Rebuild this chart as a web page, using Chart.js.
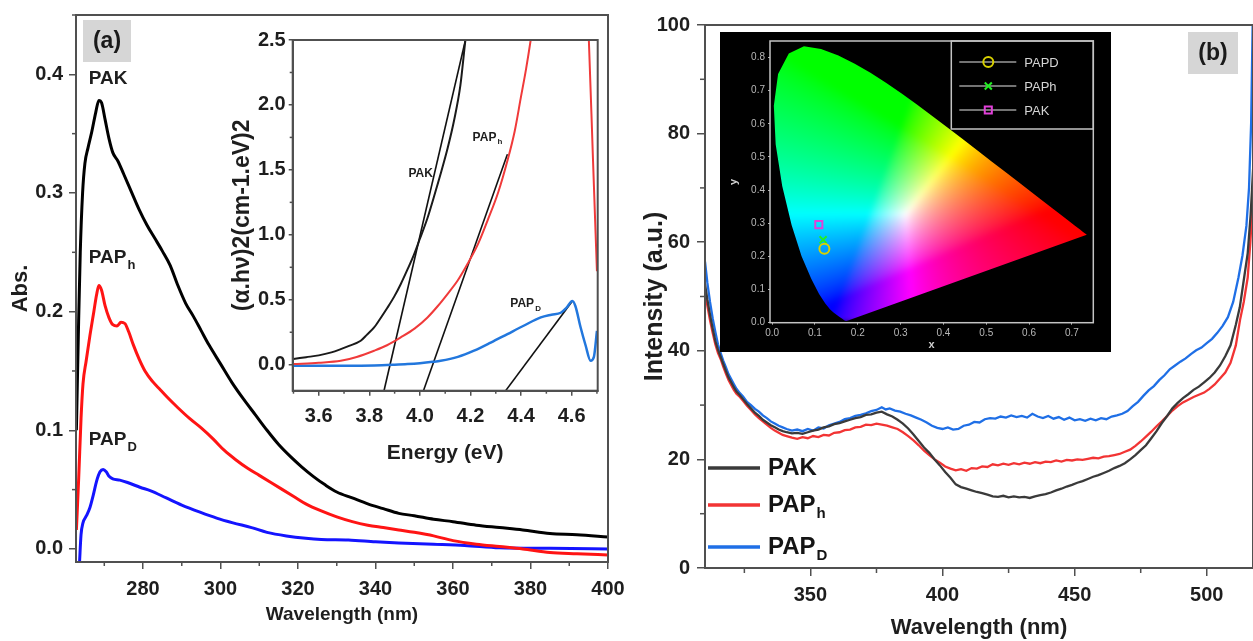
<!DOCTYPE html>
<html>
<head>
<meta charset="utf-8">
<script src="https://cdn.jsdelivr.net/npm/chart.js@4.4.1/dist/chart.umd.min.js"></script>
<style>
  html, body { margin: 0; padding: 0; background: #fff; }
  #fig { position: relative; width: 1253px; height: 641px; overflow: hidden; background: #fff; }
  canvas { position: absolute; }
</style>
</head>
<body>
<div id="fig">
  <canvas id="absMain" width="633" height="644" style="left:0;top:-3px;width:633px;height:644px"></canvas>
  <canvas id="tauc" width="395" height="450" style="left:215px;top:25px;width:395px;height:450px"></canvas>
  <canvas id="plMain" width="623" height="641" style="left:630px;top:0;width:623px;height:641px"></canvas>
  <canvas id="cie" width="391" height="320" style="left:720px;top:32px;width:391px;height:320px"></canvas>
</div>
<script>
// ---------- (a) UV-Vis absorbance: [wavelength nm, Abs] ----------
const absPAK = [[262.8,0.10],[263.3,0.18],[263.8,0.25],[264.4,0.30],[265.0,0.325],[265.8,0.338],[266.8,0.352],[267.8,0.368],[268.6,0.378],[269.3,0.376],[270.2,0.362],[271.2,0.346],[272.2,0.334],[273.5,0.327],[275,0.316],[277,0.301],[279,0.286],[281,0.273],[283,0.262],[285,0.251],[287,0.239],[289,0.222],[291,0.207],[293,0.196],[295,0.184],[297,0.172],[300,0.156],[303,0.140],[306,0.126],[309,0.113],[312,0.100],[315,0.088],[318,0.078],[321,0.069],[324,0.061],[327,0.054],[330,0.048],[334,0.043],[338,0.038],[342,0.034],[346,0.030],[350,0.028],[355,0.025],[360,0.023],[366,0.020],[372,0.018],[378,0.016],[385,0.013],[392,0.012],[400,0.010]];
const absPAPh = [[262.8,0.016],[263.4,0.06],[264.0,0.11],[264.5,0.139],[265.3,0.158],[266.3,0.18],[267.3,0.20],[268.0,0.214],[268.6,0.222],[269.3,0.218],[270.2,0.205],[271.2,0.195],[272.2,0.189],[273.3,0.188],[274.3,0.191],[275.3,0.190],[276.3,0.183],[277.5,0.172],[279,0.160],[280.5,0.150],[282.5,0.141],[284.5,0.134],[286.2,0.128],[289,0.119],[292,0.110],[295,0.102],[298,0.093],[301,0.083],[304,0.075],[307,0.068],[310,0.062],[313,0.056],[316,0.050],[319,0.044],[322,0.038],[326,0.032],[330,0.027],[334,0.023],[338,0.020],[342,0.018],[346,0.016],[350,0.014],[355,0.011],[360,0.007],[366,0.004],[372,0.002],[378,0.000],[385,-0.003],[392,-0.004],[400,-0.005]];
const absPAPD = [[263.6,-0.012],[264.0,0.012],[264.5,0.022],[265.4,0.028],[266.3,0.035],[267.2,0.046],[268.0,0.057],[268.9,0.065],[269.7,0.067],[270.5,0.065],[271.3,0.061],[272.2,0.059],[274,0.058],[276,0.056],[279.2,0.052],[282,0.049],[286,0.043],[290,0.037],[294.7,0.031],[299,0.026],[303.2,0.022],[308,0.018],[312,0.014],[317,0.011],[322,0.009],[326,0.008],[333,0.0075],[340,0.006],[346,0.005],[355,0.004],[363,0.003],[372,0.001],[385,0.0005],[400,0.0]];

// ---------- (a) inset: Tauc plot [energy eV, (αhν)^2] ----------
const taucPAK = [[3.5,0.044],[3.55,0.058],[3.6,0.072],[3.65,0.095],[3.687,0.12],[3.72,0.145],[3.766,0.185],[3.79,0.23],[3.819,0.287],[3.845,0.36],[3.872,0.44],[3.9,0.53],[3.924,0.62],[3.95,0.73],[3.977,0.85],[4.0,0.97],[4.03,1.13],[4.055,1.29],[4.082,1.47],[4.11,1.67],[4.135,1.88],[4.16,2.15],[4.18,2.5],[4.2,2.8]];
const taucPAPh = [[3.5,0.005],[3.6,0.015],[3.687,0.03],[3.75,0.06],[3.819,0.108],[3.87,0.15],[3.924,0.21],[3.98,0.28],[4.03,0.364],[4.07,0.45],[4.109,0.544],[4.15,0.65],[4.188,0.775],[4.23,0.93],[4.267,1.108],[4.31,1.33],[4.346,1.57],[4.375,1.8],[4.399,2.056],[4.42,2.28],[4.438,2.5],[4.46,2.8],[4.52,3.5],[4.6,4.2],[4.64,3.6],[4.668,2.5],[4.684,1.6],[4.70,0.72]];
const taucPAPD = [[3.5,-0.008],[3.6,-0.008],[3.7,-0.008],[3.819,-0.006],[3.9,0.0],[3.951,0.005],[4.0,0.012],[4.05,0.022],[4.082,0.03],[4.15,0.06],[4.214,0.108],[4.28,0.17],[4.346,0.236],[4.41,0.30],[4.478,0.364],[4.52,0.385],[4.557,0.40],[4.58,0.44],[4.603,0.49],[4.615,0.45],[4.635,0.29],[4.655,0.15],[4.675,0.03],[4.688,0.06],[4.70,0.26]];
const fitPAK = [[3.858,-0.2],[4.18,2.5]];
const fitPAPh = [[4.014,-0.2],[4.346,1.62]];
const fitPAPD = [[4.339,-0.2],[4.603,0.49]];

// ---------- (b) photoluminescence: [wavelength nm, intensity a.u.] ----------
const plPAK = [[310.1,52.3],[311,49.4],[312,46.6],[313,44.1],[314,41.8],[315,40.2],[316,38.9],[317,37.6],[318,36.3],[319,35.1],[320,34.2],[321,33.3],[322,32.5],[323.3,31.8],[324.5,31.1],[326,30.2],[327.5,29.4],[329,28.6],[330.5,28.0],[332,27.3],[333.5,26.8],[335,26.3],[336.5,25.9],[338,25.5],[339.5,25.2],[341,25.0],[343,24.8],[345,24.9],[347,24.7],[349,25.0],[351,25.3],[353,25.5],[355,25.9],[357,26.1],[359,26.5],[361,26.7],[363,27.0],[365,27.3],[367,27.6],[369,27.8],[371,28.2],[373,28.3],[375,28.6],[377,28.8],[379,28.3],[381,27.9],[383,27.3],[385,26.6],[387,25.7],[389,24.6],[391,23.4],[393,22.2],[395,21.2],[397,20.0],[399,18.9],[401,17.7],[403,16.6],[405,15.4],[407,14.9],[409,14.6],[411,14.3],[413,14.0],[415,13.8],[417,13.5],[419,13.2],[421,13.1],[423,13.3],[425,13.0],[427,13.2],[429,13.0],[431,13.1],[433,12.9],[435,13.2],[437,13.4],[439,13.6],[441,13.9],[443,14.3],[445,14.6],[447,15.0],[449,15.3],[451,15.7],[453,16.0],[455,16.4],[457,16.8],[459,17.1],[461,17.5],[463,17.9],[465,18.4],[467,18.8],[469,19.3],[471,20.0],[473,20.8],[475,21.7],[477,22.6],[479,23.9],[481,25.2],[483,26.7],[485,28.0],[487,29.4],[489,30.4],[491,31.3],[493,32.0],[495,32.8],[497,33.4],[499,34.2],[501,35.0],[503,36.0],[505,37.3],[507,39.0],[509,41.0],[511,44.8],[512.5,48],[514,53],[515.5,58],[516.6,65],[517.6,74]];
const plPAPh = [[310.1,51.2],[311,48.3],[312,45.6],[313,43.3],[314,41.2],[315,39.6],[316,38.5],[317,37.1],[318,35.8],[319,34.6],[320,33.7],[321,32.8],[322,32.1],[323.3,31.5],[324.5,30.8],[326,29.9],[327.5,29.1],[329,28.3],[330.5,27.6],[332,27.0],[333.5,26.4],[335,25.8],[336.5,25.3],[338,24.9],[339.5,24.5],[341,24.3],[343,24.0],[345,23.8],[347,24.1],[349,23.9],[351,24.3],[353,24.1],[355,24.5],[357,24.4],[359,24.9],[361,25.0],[363,25.4],[365,25.5],[367,25.9],[369,26.0],[371,26.4],[373,26.3],[375,26.6],[377,26.4],[379,26.2],[381,25.9],[383,25.6],[385,25.0],[387,24.3],[389,23.5],[391,22.6],[393,21.6],[395,20.8],[397,20.0],[399,19.4],[401,18.7],[403,18.3],[405,18.0],[407,18.2],[409,17.9],[411,18.4],[413,18.3],[415,18.7],[417,18.6],[419,19.1],[421,18.9],[423,19.2],[425,19.0],[427,19.3],[429,19.1],[431,19.4],[433,19.2],[435,19.5],[437,19.3],[439,19.6],[441,19.5],[443,19.8],[445,19.6],[447,19.9],[449,19.8],[451,20.0],[453,19.9],[455,20.1],[457,20.3],[459,20.2],[461,20.5],[463,20.6],[465,20.8],[467,21.0],[469,21.4],[471,21.8],[473,22.5],[475,23.3],[477,24.2],[479,25.1],[481,26.1],[483,27.0],[485,28.0],[487,29.0],[489,29.8],[491,30.5],[493,31.0],[495,31.5],[497,31.9],[499,32.3],[501,33.0],[503,33.8],[505,34.9],[507,36.0],[509,37.8],[511,41.0],[512.6,45.7],[514,49.0],[515.5,53.5],[516.5,60],[517.2,66],[517.6,72]];
const plPAPD = [[310.1,56.4],[311,52.5],[312,49.0],[313,46.0],[314,43.5],[315,41.2],[316,39.6],[317,38.2],[318,37.0],[319,35.7],[320,34.8],[321,33.9],[322,33.0],[323.3,32.2],[324.5,31.6],[326,30.6],[327.5,30.0],[329,29.3],[330.5,28.8],[332,28.1],[333.5,27.6],[335,27.0],[336.5,26.6],[338,26.2],[339.5,25.9],[341,25.6],[343,25.3],[345,25.5],[347,25.2],[349,25.6],[351,25.3],[353,25.9],[355,25.7],[357,26.3],[359,26.6],[361,26.9],[363,27.4],[365,27.6],[367,28.0],[369,28.2],[371,28.5],[373,28.9],[375,29.1],[377,29.6],[378.5,29.2],[380,29.4],[382,29.0],[384,28.8],[386,28.4],[388,28.1],[390,27.7],[392,27.3],[394,26.8],[396,26.2],[398,25.8],[400,25.6],[402,25.9],[404,25.5],[406,25.6],[408,26.2],[410,26.4],[412,26.9],[414,26.8],[416,27.4],[418,27.6],[420,27.5],[422,27.9],[424,27.7],[426,28.1],[428,27.8],[430,28.0],[432,27.7],[434,28.4],[436,27.9],[438,27.6],[440,28.0],[442,27.5],[444,27.8],[446,27.3],[448,27.7],[450,27.2],[452,27.4],[454,27.1],[456,27.5],[458,27.2],[460,27.6],[462,27.4],[464,27.9],[466,28.1],[468,28.4],[470,28.9],[472,29.8],[474,30.6],[476,31.7],[478,32.7],[480,33.5],[482,34.6],[484,35.5],[486,36.6],[488,37.3],[490,38.0],[492,38.6],[494,39.4],[496,40.1],[498,40.6],[500,41.4],[502,42.2],[504,43.3],[506,44.6],[508,46.2],[510,49.0],[512,53.5],[513.5,57.5],[515,63],[516,70],[516.8,82],[517.3,98],[517.6,108]];

// ---------- (b) inset: CIE 1931 chromaticity ----------
const cieLocus = [[0.1741,0.0050],[0.1733,0.0048],[0.1726,0.0048],[0.1714,0.0051],[0.1689,0.0069],[0.1644,0.0109],[0.1566,0.0177],[0.1440,0.0297],[0.1355,0.0399],[0.1241,0.0578],[0.1096,0.0868],[0.0913,0.1327],[0.0687,0.2007],[0.0454,0.2950],[0.0235,0.4127],[0.0082,0.5384],[0.0039,0.6548],[0.0139,0.7502],[0.0389,0.8120],[0.0743,0.8338],[0.1142,0.8262],[0.1547,0.8059],[0.1929,0.7816],[0.2296,0.7543],[0.2658,0.7243],[0.3016,0.6923],[0.3373,0.6589],[0.3731,0.6245],[0.4087,0.5896],[0.4441,0.5547],[0.4788,0.5202],[0.5125,0.4866],[0.5448,0.4544],[0.5752,0.4242],[0.6029,0.3965],[0.6270,0.3725],[0.6482,0.3514],[0.6658,0.3340],[0.6915,0.3083],[0.7079,0.2920],[0.7190,0.2809],[0.7260,0.2740],[0.7300,0.2700],[0.7334,0.2666],[0.7347,0.2653]];
const cieNames = ['PAPD', 'PAPh', 'PAK'];
const cieX = [0.122, 0.119, 0.109];
const cieY = [0.223, 0.250, 0.296];

const FONT = "'Liberation Sans', Arial, Helvetica, sans-serif";
Chart.defaults.font.family = FONT;
Chart.defaults.font.weight = 'bold';
Chart.defaults.color = '#1e1e1e';
Chart.defaults.animation = false;
Chart.defaults.events = [];
Chart.defaults.plugins.legend.display = false;
Chart.defaults.plugins.tooltip.enabled = false;

const pts = a => a.map(([x, y]) => ({ x, y }));
const AX = '#505050';

function line(data, color, width, smooth) {
  return {
    data: pts(data), showLine: true, borderColor: color, backgroundColor: color,
    borderWidth: width, pointRadius: 0,
    cubicInterpolationMode: smooth ? 'monotone' : 'default', tension: 0
  };
}

function framePlugin(color, width) {
  return {
    id: 'frame',
    afterDatasetsDraw(chart) {
      const { ctx, chartArea: a } = chart;
      ctx.save();
      ctx.strokeStyle = color; ctx.lineWidth = width;
      ctx.strokeRect(a.left, a.top, a.right - a.left, a.bottom - a.top);
      ctx.restore();
    }
  };
}

function minorTicksPlugin(spec) {
  return {
    id: 'minorTicks',
    afterDraw(chart) {
      const { ctx } = chart;
      ctx.save();
      for (const [id, o] of Object.entries(spec)) {
        const sc = chart.scales[id];
        const majors = sc.ticks.map(t => t.value);
        ctx.strokeStyle = o.color || AX; ctx.lineWidth = o.width || 1.5;
        for (let k = Math.ceil(sc.min / o.step - 1e-9); k * o.step <= sc.max + 1e-9; k++) {
          const v = k * o.step;
          if (majors.some(m => Math.abs(m - v) < o.step * 1e-3)) continue;
          const p = sc.getPixelForValue(v);
          ctx.beginPath();
          if (sc.isHorizontal()) { ctx.moveTo(p, sc.top); ctx.lineTo(p, sc.top + o.len); }
          else { ctx.moveTo(sc.right, p); ctx.lineTo(sc.right - o.len, p); }
          ctx.stroke();
        }
      }
      ctx.restore();
    }
  };
}

function drawSubText(ctx, x, y, main, sub, size, subSize, align, color) {
  ctx.save();
  ctx.fillStyle = color || '#1e1e1e';
  ctx.textBaseline = 'middle'; ctx.textAlign = 'left';
  ctx.font = `bold ${size}px ${FONT}`;
  const w1 = ctx.measureText(main).width;
  ctx.font = `bold ${subSize}px ${FONT}`;
  const w2 = sub ? ctx.measureText(sub).width + 1 : 0;
  const x0 = align === 'center' ? x - (w1 + w2) / 2 : x;
  ctx.font = `bold ${size}px ${FONT}`;
  ctx.fillText(main, x0, y);
  if (sub) {
    ctx.font = `bold ${subSize}px ${FONT}`;
    ctx.fillText(sub, x0 + w1 + 1, y + size * 0.36);
  }
  ctx.restore();
}

// curve names written next to the curves, anchored in data coordinates
function curveLabelsPlugin(items, size, subSize) {
  return {
    id: 'curveLabels',
    afterDatasetsDraw(chart) {
      const { ctx, scales: { x, y } } = chart;
      for (const it of items) {
        drawSubText(ctx, x.getPixelForValue(it.x), y.getPixelForValue(it.y), it.text, it.sub, size, subSize, 'center');
      }
    }
  };
}

function panelTagPlugin(text, fromRight, dx, dy, w, h) {
  return {
    id: 'panelTag',
    afterDraw(chart) {
      const { ctx, chartArea: a } = chart;
      const left = fromRight ? a.right - dx - w : a.left + dx;
      const top = a.top + dy;
      ctx.save();
      ctx.fillStyle = '#d6d6d6';
      ctx.fillRect(left, top, w, h);
      ctx.fillStyle = '#1a1a1a';
      ctx.font = `bold 23px ${FONT}`;
      ctx.textAlign = 'center'; ctx.textBaseline = 'middle';
      ctx.fillText(text, left + w / 2, top + h / 2 + 1);
      ctx.restore();
    }
  };
}

const tickFmt = d => v => Number(v).toFixed(d);

// ================= (a) main absorbance chart =================
new Chart(document.getElementById('absMain'), {
  type: 'scatter',
  data: {
    datasets: [
      line(absPAK, '#000000', 3, true),
      line(absPAPh, '#ff1414', 3, true),
      line(absPAPD, '#1414ff', 3, true)
    ]
  },
  options: {
    responsive: false,
    layout: { padding: { left: 0, top: 14, right: 25, bottom: 0 } },
    scales: {
      x: {
        type: 'linear', min: 262.7, max: 400,
        afterFit: s => { s.height = 79; },
        ticks: { stepSize: 20, includeBounds: false, maxRotation: 0, autoSkip: false, padding: 8, font: { size: 20 }, callback: tickFmt(0) },
        grid: { drawOnChartArea: false, color: AX, lineWidth: 1.5, tickLength: 7 },
        border: { color: AX, width: 2 },
        title: { display: true, text: 'Wavelength (nm)', font: { size: 19 }, padding: { top: 0, bottom: 14.6 } }
      },
      y: {
        type: 'linear', min: -0.011, max: 0.45,
        afterFit: s => { s.width = 76; },
        ticks: { stepSize: 0.1, includeBounds: false, padding: 6, font: { size: 20 }, callback: tickFmt(1) },
        grid: { drawOnChartArea: false, color: AX, lineWidth: 1.5, tickLength: 7 },
        border: { color: AX, width: 2 },
        title: { display: true, text: 'Abs.', font: { size: 22 }, padding: { top: 7.8, bottom: 0 } }
      }
    }
  },
  plugins: [
    framePlugin(AX, 2),
    minorTicksPlugin({ x: { step: 10, len: 4 }, y: { step: 0.05, len: 4 } }),
    curveLabelsPlugin([
      { text: 'PAK', x: 271.0, y: 0.396 },
      { text: 'PAP', sub: 'h', x: 272.0, y: 0.245 },
      { text: 'PAP', sub: 'D', x: 272.2, y: 0.0916 }
    ], 19, 13),
    panelTagPlugin('(a)', false, 7, 5, 48, 42)
  ]
});

// ================= (a) inset: Tauc plot =================
new Chart(document.getElementById('tauc'), {
  type: 'scatter',
  data: {
    datasets: [
      line(taucPAK, '#1a1a1a', 2, true),
      line(taucPAPh, '#f03a3a', 2, true),
      line(taucPAPD, '#2277dd', 2.5, true),
      line(fitPAK, '#111111', 1.6, false),
      line(fitPAPh, '#111111', 1.6, false),
      line(fitPAPD, '#111111', 1.6, false)
    ]
  },
  options: {
    responsive: false,
    layout: { padding: { left: 0, top: 14, right: 12.3, bottom: 0 } },
    scales: {
      x: {
        type: 'linear', min: 3.497, max: 4.703,
        afterFit: s => { s.height = 84.3; },
        ticks: { stepSize: 0.2, includeBounds: false, maxRotation: 0, autoSkip: false, padding: 9, font: { size: 20 }, callback: tickFmt(1) },
        grid: { drawOnChartArea: false, color: AX, lineWidth: 1.5, tickLength: 5 },
        border: { color: AX, width: 2 },
        title: { display: true, text: 'Energy (eV)', font: { size: 21 }, padding: { top: 0, bottom: 9.4 } }
      },
      y: {
        type: 'linear', min: -0.2, max: 2.5,
        afterFit: s => { s.width = 77.7; },
        ticks: { stepSize: 0.5, includeBounds: false, padding: 3, font: { size: 20 }, callback: tickFmt(1) },
        grid: { drawOnChartArea: false, color: AX, lineWidth: 1.5, tickLength: 4 },
        border: { color: AX, width: 2 },
        title: { display: true, text: '(α.hν)2(cm-1.eV)2', font: { size: 23 }, padding: { top: 14, bottom: 0 } }
      }
    }
  },
  plugins: [
    framePlugin(AX, 2),
    minorTicksPlugin({ x: { step: 0.1, len: 3 }, y: { step: 0.25, len: 3 } }),
    curveLabelsPlugin([
      { text: 'PAK', x: 4.003, y: 1.467 },
      { text: 'PAP', sub: 'h', x: 4.267, y: 1.748 },
      { text: 'PAP', sub: 'D', x: 4.418, y: 0.467 }
    ], 12, 8)
  ]
});

// ================= (b) photoluminescence chart =================
const plLegend = {
  id: 'plLegend',
  afterDatasetsDraw(chart) {
    const { ctx, chartArea: a } = chart;
    const rows = [-100, -63, -21];
    chart.data.datasets.forEach((ds, i) => {
      const y = a.bottom + rows[i];
      ctx.save();
      ctx.strokeStyle = ds.borderColor; ctx.lineWidth = 3.5;
      ctx.beginPath(); ctx.moveTo(a.left + 3, y); ctx.lineTo(a.left + 55, y); ctx.stroke();
      ctx.restore();
      drawSubText(ctx, a.left + 63, y, ds.label, ds.labelSub, 24, 15, 'left', '#141414');
    });
  }
};

new Chart(document.getElementById('plMain'), {
  type: 'scatter',
  data: {
    datasets: [
      Object.assign(line(plPAK, '#3a3a3a', 2.3, false), { label: 'PAK', labelSub: '' }),
      Object.assign(line(plPAPh, '#f23434', 2.3, false), { label: 'PAP', labelSub: 'h' }),
      Object.assign(line(plPAPD, '#1f6fe6', 2.3, false), { label: 'PAP', labelSub: 'D' })
    ]
  },
  options: {
    responsive: false,
    layout: { padding: { left: 0, top: 25, right: 0, bottom: 0 } },
    scales: {
      x: {
        type: 'linear', min: 310.1, max: 517.5,
        afterFit: s => { s.height = 73; },
        ticks: { stepSize: 50, includeBounds: false, maxRotation: 0, autoSkip: false, padding: 7, font: { size: 20 }, callback: tickFmt(0) },
        grid: { drawOnChartArea: false, color: AX, lineWidth: 1.5, tickLength: 8 },
        border: { color: AX, width: 2 },
        title: { display: true, text: 'Wavelength (nm)', font: { size: 22 }, padding: { top: 0, bottom: 0 } }
      },
      y: {
        type: 'linear', min: 0, max: 100,
        afterFit: s => { s.width = 75; },
        ticks: { stepSize: 20, includeBounds: false, padding: 7, font: { size: 20 }, callback: tickFmt(0) },
        grid: { drawOnChartArea: false, color: AX, lineWidth: 1.5, tickLength: 8 },
        border: { color: AX, width: 2 },
        title: { display: true, text: 'Intensity (a.u.)', font: { size: 25 }, padding: { top: 10, bottom: 0 } }
      }
    }
  },
  plugins: [
    framePlugin(AX, 2),
    minorTicksPlugin({ x: { step: 25, len: 5 }, y: { step: 10, len: 5 } }),
    plLegend,
    panelTagPlugin('(b)', true, 15, 7, 50, 42)
  ]
});

// ================= (b) inset: CIE 1931 diagram =================
function srgbGamma(c) { return c <= 0.0031308 ? 12.92 * c : 1.055 * Math.pow(c, 1 / 2.4) - 0.055; }
function xyToRgb(x, y) {
  const X = x / y, Y = 1, Z = (1 - x - y) / y;
  let r = 3.2406 * X - 1.5372 * Y - 0.4986 * Z;
  let g = -0.9689 * X + 1.8758 * Y + 0.0415 * Z;
  let b = 0.0557 * X - 0.2040 * Y + 1.0570 * Z;
  r = Math.max(r, 0); g = Math.max(g, 0); b = Math.max(b, 0);
  const m = Math.max(r, g, b) || 1;
  // a moderate chroma curve keeps the white region compact but soft
  const s = c => srgbGamma(Math.pow(c / m, 1.5)) * 255;
  return [s(r), s(g), s(b)];
}

const cieBackdrop = {
  id: 'cieBackdrop',
  beforeDraw(chart) {
    const { ctx, width, height } = chart;
    ctx.save(); ctx.fillStyle = '#000'; ctx.fillRect(0, 0, width, height); ctx.restore();
  },
  beforeDatasetsDraw(chart) {
    const { ctx, chartArea: a, scales: { x, y } } = chart;
    const w = Math.ceil(a.right - a.left), h = Math.ceil(a.bottom - a.top);
    const off = document.createElement('canvas');
    off.width = w; off.height = h;
    const octx = off.getContext('2d');
    const img = octx.createImageData(w, h);
    for (let j = 0; j < h; j++) {
      const cy = y.getValueForPixel(a.top + j + 0.5);
      for (let i = 0; i < w; i++) {
        const cx = x.getValueForPixel(a.left + i + 0.5);
        const k = (j * w + i) * 4;
        if (cy <= 0.002) { img.data[k + 3] = 255; continue; }
        const [r, g, b] = xyToRgb(cx, cy);
        img.data[k] = r; img.data[k + 1] = g; img.data[k + 2] = b; img.data[k + 3] = 255;
      }
    }
    octx.putImageData(img, 0, 0);
    ctx.save();
    ctx.beginPath();
    cieLocus.forEach(([lx, ly], n) => {
      const px = x.getPixelForValue(lx), py = y.getPixelForValue(ly);
      n ? ctx.lineTo(px, py) : ctx.moveTo(px, py);
    });
    ctx.closePath();
    ctx.clip();
    ctx.filter = 'blur(2.5px)';
    ctx.drawImage(off, a.left, a.top);
    ctx.restore();
  },
  afterDatasetsDraw(chart) {
    const { ctx, chartArea: a } = chart;
    ctx.save();
    ctx.strokeStyle = '#c4c4c4'; ctx.lineWidth = 1.5;
    ctx.strokeRect(a.left, a.top, a.right - a.left, a.bottom - a.top);
    // legend box in the upper right corner
    const bl = a.right - 142, bt = a.top, bw = 142, bh = 88;
    ctx.strokeRect(bl, bt, bw, bh);
    chart.data.datasets.slice(1).forEach((ds, i) => {
      const yy = bt + 21 + i * 24;
      ctx.strokeStyle = '#9a9a9a'; ctx.lineWidth = 1.5;
      ctx.beginPath(); ctx.moveTo(bl + 8, yy); ctx.lineTo(bl + 65, yy); ctx.stroke();
      ctx.strokeStyle = ds.pointBorderColor; ctx.fillStyle = 'rgba(0,0,0,0)';
      ctx.lineWidth = ds.pointBorderWidth;
      Chart.helpers.drawPoint(ctx, { pointStyle: ds.pointStyle, radius: ds.pointRadius, rotation: 0, borderWidth: ds.pointBorderWidth }, bl + 37, yy);
      ctx.fillStyle = '#d4d4d4';
      ctx.font = `13px ${FONT}`;
      ctx.textAlign = 'left'; ctx.textBaseline = 'middle';
      ctx.fillText(ds.label, bl + 73, yy + 1);
    });
    ctx.restore();
  }
};

const cieStyles = [
  { color: '#d8d000', style: 'circle' },
  { color: '#22ee22', style: 'crossRot' },
  { color: '#e040d8', style: 'rect' }
];

new Chart(document.getElementById('cie'), {
  type: 'scatter',
  data: {
    datasets: [
      { label: 'locus', data: pts(cieLocus), pointRadius: 0, showLine: false },
      ...cieNames.map((n, i) => ({
        label: n,
        data: [{ x: cieX[i], y: cieY[i] }],
        pointStyle: cieStyles[i].style,
        pointRadius: 5,
        pointBorderWidth: 2,
        pointBorderColor: cieStyles[i].color,
        pointBackgroundColor: 'rgba(0,0,0,0)',
        borderColor: cieStyles[i].color
      }))
    ]
  },
  options: {
    responsive: false,
    layout: { padding: { left: 0, top: 7, right: 17.7, bottom: 0 } },
    scales: {
      x: {
        type: 'linear', min: -0.005, max: 0.75,
        afterFit: s => { s.height = 29.3; },
        ticks: { stepSize: 0.1, includeBounds: false, maxRotation: 0, autoSkip: false, padding: 3, color: '#b8b8b8', font: { size: 10, weight: 'normal' }, callback: tickFmt(1) },
        grid: { drawOnChartArea: false, color: '#b0b0b0', lineWidth: 1, tickLength: 2 },
        border: { display: false },
        title: { display: true, text: 'x', color: '#d0d0d0', font: { size: 11 }, padding: { top: 0, bottom: 0 } }
      },
      y: {
        type: 'linear', min: 0, max: 0.85,
        afterFit: s => { s.width = 50; },
        ticks: { stepSize: 0.1, includeBounds: false, padding: 3, color: '#b8b8b8', font: { size: 10, weight: 'normal' }, callback: tickFmt(1) },
        grid: { drawOnChartArea: false, color: '#b0b0b0', lineWidth: 1, tickLength: 2 },
        border: { display: false },
        title: { display: true, text: 'y', color: '#d0d0d0', font: { size: 11 }, padding: { top: 7.4, bottom: 0 } }
      }
    }
  },
  plugins: [cieBackdrop]
});
</script>
</body>
</html>
